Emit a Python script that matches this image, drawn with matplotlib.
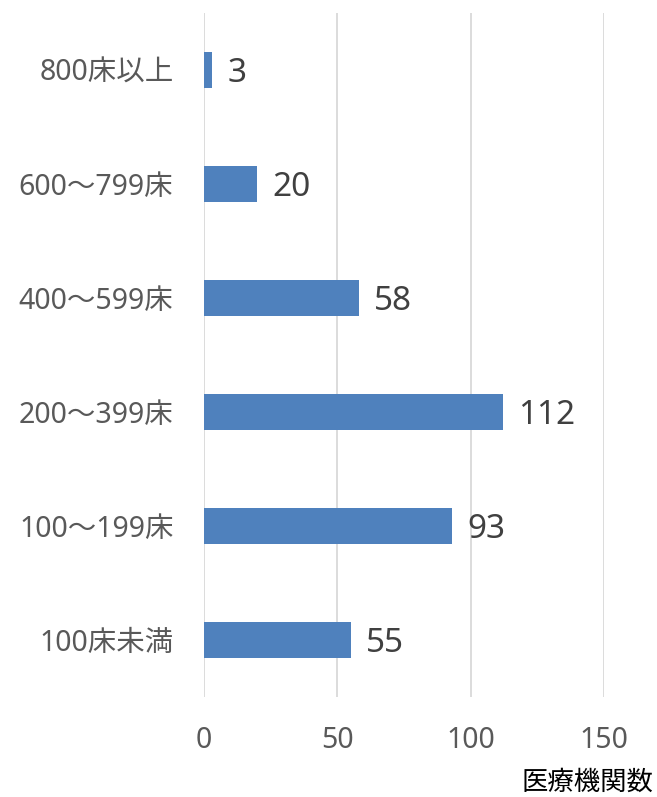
import numpy as np
import matplotlib.pyplot as plt

plt.rcParams['font.family'] = ['Noto Sans', 'Noto Sans CJK JP', 'DejaVu Sans']

# 病床規模別の医療機関数
categories = ['800床以上', '600～799床', '400～599床', '200～399床', '100～199床', '100床未満']
counts = [3, 20, 58, 112, 93, 55]
xticks = [0, 50, 100, 150]

fig = plt.figure(figsize=(6.57, 7.97), dpi=100)
ax = fig.add_axes([204/657, 1-697/797, 400/657, 684/797])

y = np.arange(len(categories))
ax.barh(y, counts, height=0.32, color='#4F81BD', zorder=3)

for yi, v in zip(y, counts):
    ax.annotate(str(v), (v, yi), xytext=(11, 0), textcoords='offset points',
                ha='left', va='center_baseline', fontsize=24, color='#404040')

ax.set_yticks(y)
ax.set_yticklabels(categories)
ax.set_ylim(len(categories)-0.5, -0.5)
ax.set_xlim(0, 150)
ax.set_xticks(xticks)
ax.tick_params(axis='both', length=0, labelsize=20.5, colors='#595959')
ax.tick_params(axis='y', pad=22)
ax.tick_params(axis='x', pad=21)
ax.grid(axis='x', color='#D9D9D9', linewidth=1.3, zorder=0)
for s in ax.spines.values():
    s.set_visible(False)

fig.text(0.995, 1-783/797, '医療機関数', ha='right', va='center', fontsize=19, color='#000000')

plt.savefig('out.png', dpi=100)
